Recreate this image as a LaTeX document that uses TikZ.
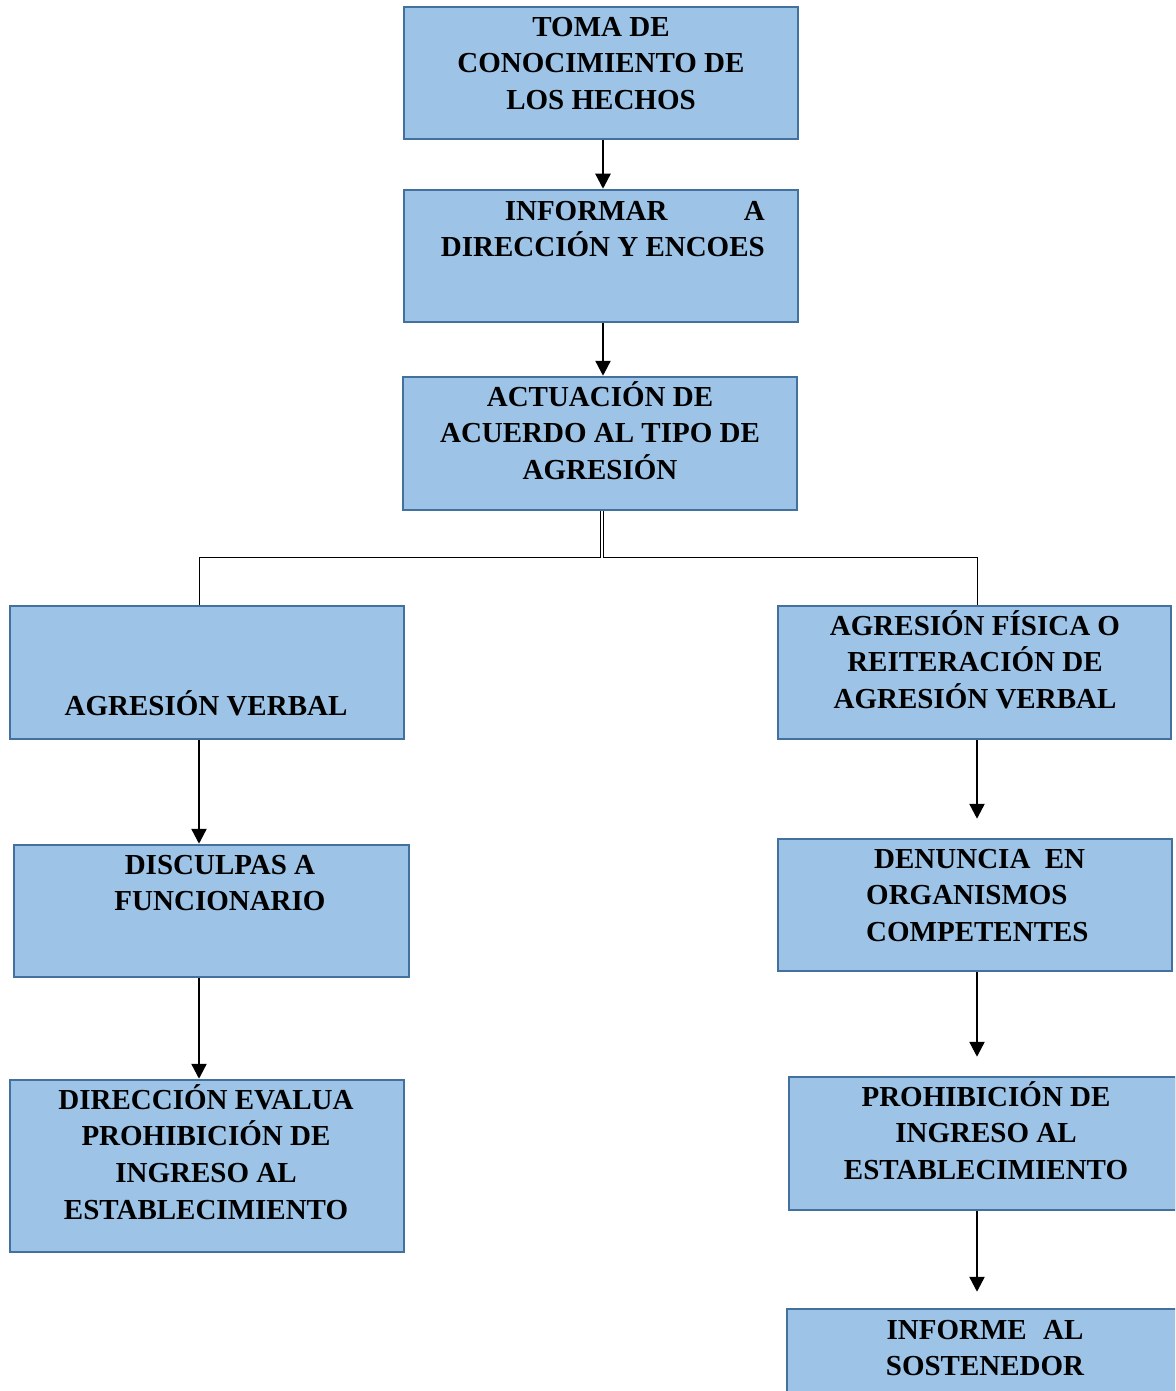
\documentclass[tikz,border=0pt]{standalone}
\usepackage{fontspec}
\setmainfont{Liberation Serif}
\usetikzlibrary{arrows.meta}
\definecolor{boxfill}{HTML}{9DC3E6}
\definecolor{boxline}{HTML}{41719C}
\tikzset{
  box/.style={draw=boxline, fill=boxfill, line width=2.5pt, inner sep=0pt, minimum width=394pt, minimum height=132pt},
  txt/.style={inner sep=0pt, anchor=north, align=center, font=\fontsize{29}{36.6}\selectfont\bfseries},
  arr/.style={line width=2.4pt, -{Triangle[width=15pt,length=15pt]}},
  branch/.style={line width=1pt}
}
\newcommand{\st}{\rule{0pt}{26pt}}
\begin{document}
\begin{tikzpicture}[x=1pt,y=-1pt]
\clip (0,0) rectangle (1175,1391);
\fill[white] (0,0) rectangle (1175,1391);
% boxes
\node[box] (b1) at (601,73) {};
\node[box] (b2) at (601,256) {};
\node[box, minimum height=133pt] (b3) at (600,443.5) {};
\node[box, minimum height=133pt] (b4) at (207,672.5) {};
\node[box, minimum width=393pt, minimum height=133pt] (b5) at (974.5,672.5) {};
\node[box, minimum width=395pt] (b6) at (211.5,911) {};
\node[box] (b7) at (975,905) {};
\node[box, minimum height=172pt] (b8) at (207,1166) {};
\node[box, minimum width=387pt, minimum height=133pt] (b9) at (982.5,1143.5) {};
\node[box, minimum width=398pt, minimum height=141pt] (b10) at (986,1379.5) {};
% texts
\node[txt] (t1) at (601,10) {\st TOMA DE\\CONOCIMIENTO DE\\LOS HECHOS};
\node[txt, anchor=north east, align=right] (t2) at (765,194) {\st\makebox[260pt][s]{INFORMAR\hfill A}\\DIRECCIÓN Y ENCOES};
\node[txt] (t3) at (600,380) {\st ACTUACIÓN DE\\ACUERDO AL TIPO DE\\AGRESIÓN};
\node[txt] (t4) at (206,689) {\st AGRESIÓN VERBAL};
\node[txt] (t5) at (975,609) {\st AGRESIÓN FÍSICA O\\REITERACIÓN DE\\AGRESIÓN VERBAL};
\node[txt] (t6) at (220,848) {\st DISCULPAS A\\FUNCIONARIO};
\node[txt, anchor=north west, align=left] (t7) at (866,842) {\st\hspace{8pt}\makebox[211pt][s]{DENUNCIA\hfill EN}\\ORGANISMOS\\COMPETENTES};
\node[txt] (t8) at (206,1083) {\st DIRECCIÓN EVALUA\\PROHIBICIÓN DE\\INGRESO AL\\ESTABLECIMIENTO};
\node[txt] (t9) at (986,1080) {\st PROHIBICIÓN DE\\INGRESO AL\\ESTABLECIMIENTO};
\node[txt] (t10) at (985,1313) {\st INFORME\hspace{9pt} AL\\SOSTENEDOR};
% connectors
\draw[arr] ([xshift=2pt]b1.south) -- ([xshift=2pt]b2.north);
\draw[arr] ([xshift=2pt]b2.south) -- ([xshift=3pt]b3.north);
\draw[branch] ([xshift=0.3pt]b3.south) -- ++(0,46) -| ([xshift=-8pt]b4.north);
\draw[branch] ([xshift=3.7pt]b3.south) -- ++(0,46) -| ([xshift=2.5pt]b5.north);
\draw[arr] ([xshift=-8pt]b4.south) -- ([xshift=-12.5pt]b6.north);
\draw[arr] ([xshift=-12.5pt]b6.south) -- ([xshift=-8pt]b8.north);
\draw[arr] ([xshift=2.5pt]b5.south) -- ([xshift=2pt,yshift=19pt]b7.north);
\draw[arr] ([xshift=2pt]b7.south) -- ([xshift=-5.5pt,yshift=19pt]b9.north);
\draw[arr] ([xshift=-5.5pt]b9.south) -- ([xshift=-9pt,yshift=16pt]b10.north);
\end{tikzpicture}
\end{document}
